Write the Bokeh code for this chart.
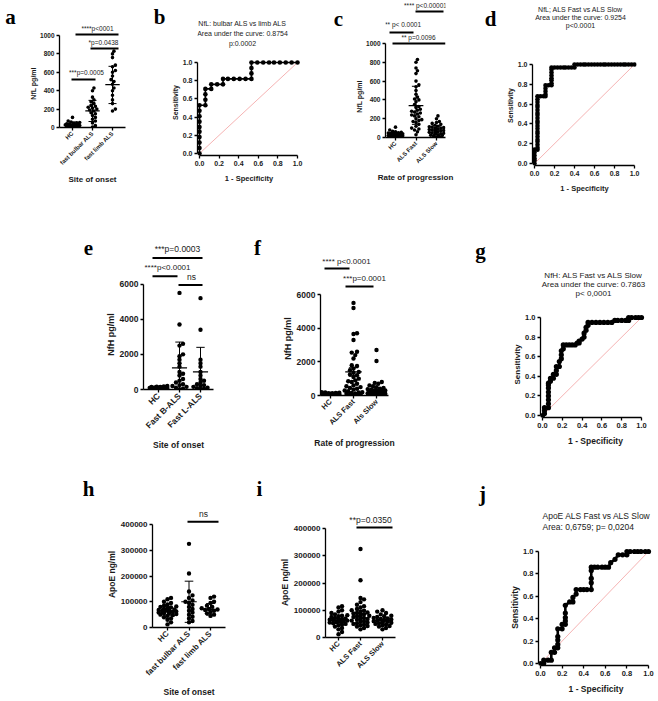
import math
import numpy as np
from bokeh.plotting import figure
from bokeh.models import Range1d, FixedTicker, Label, Title
from bokeh.layouts import row, column
from bokeh.embed import file_html
from bokeh.resources import INLINE

FONT = "Liberation Sans"
SERIF = "Liberation Serif"
INK = "#1a1a1a"

# ---------------- data ----------------
a_cats = ["HC", "fast bulbar ALS", "fast limb ALS"]
a_hc = [110, 70, 60, 55, 50, 45, 40, 38, 35, 32, 30, 28, 25, 22, 20, 18, 15, 12, 10, 8, 5, 3]
a_bulbar = [430, 400, 330, 300, 280, 260, 240, 230, 220, 210, 200, 190, 180, 160, 150, 130, 110, 90, 70, 50, 20, 5]
a_limb = [830, 800, 760, 680, 660, 620, 600, 560, 520, 500, 470, 430, 400, 350, 300, 260, 200, 180]
a_mean = [33, 180, 465]
a_lo = [5, 65, 260]
a_hi = [60, 295, 665]
a_ticks = [0, 200, 400, 600, 800, 1000]
a_tick_labels = ["0", "200", "400", "600", "800", "1000"]

b_fpr = [0, 0, 0, 0, 0, 0, 0, 0, 0, 0, 0.06, 0.06, 0.06, 0.06, 0.12, 0.12, 0.18, 0.24, 0.24,
         0.29, 0.35, 0.41, 0.47, 0.53, 0.53, 0.53, 0.53, 0.59, 0.65, 0.71, 0.76, 0.82, 0.88, 0.94, 1.0]
b_tpr = [0, 0.06, 0.12, 0.18, 0.24, 0.29, 0.35, 0.41, 0.47, 0.53, 0.53, 0.59, 0.65, 0.71, 0.71, 0.76, 0.76, 0.76, 0.82,
         0.82, 0.82, 0.82, 0.82, 0.82, 0.88, 0.94, 1.0, 1.0, 1.0, 1.0, 1.0, 1.0, 1.0, 1.0, 1.0]
roc_ticks = [0, 0.2, 0.4, 0.6, 0.8, 1.0]
roc_tick_labels = ["0.0", "0.2", "0.4", "0.6", "0.8", "1.0"]

c_cats = ["HC", "ALS Fast", "ALS Slow"]
c_hc = [110, 80, 65, 60, 55, 50, 48, 45, 42, 40, 38, 35, 33, 30, 28, 26, 24, 22, 20, 18, 16, 14, 12, 10, 8, 6, 4, 2]
c_fast = [830, 800, 740, 710, 680, 600, 560, 540, 500, 460, 430, 410, 400, 380, 350, 330, 320, 300, 290, 280,
          270, 260, 250, 240, 230, 220, 200, 190, 180, 170, 160, 140, 120, 100, 90, 80, 60, 30]
c_slow = [230, 200, 170, 160, 150, 140, 130, 120, 115, 110, 105, 100, 95, 90, 85, 80, 75, 70, 65, 60,
          55, 50, 45, 40, 35, 30, 25, 20, 15, 10, 5]
c_mean = [30, 340, 80]
c_lo = [8, 140, 35]
c_hi = [55, 545, 125]

d_fpr = [0, 0, 0, 0, 0, 0,
         0.03, 0.03, 0.03, 0.03, 0.03, 0.03, 0.03, 0.03, 0.03, 0.03, 0.03, 0.03, 0.03, 0.03, 0.03, 0.03, 0.03, 0.03, 0.03, 0.03, 0.03,
         0.06, 0.09, 0.11, 0.11, 0.11, 0.11, 0.11,
         0.14, 0.17, 0.17, 0.17, 0.17, 0.17, 0.17, 0.17, 0.17,
         0.2, 0.23, 0.26, 0.29, 0.31, 0.34, 0.37, 0.4, 0.4,
         0.43, 0.46, 0.49, 0.51, 0.54, 0.57, 0.6, 0.63, 0.66, 0.69, 0.71, 0.74, 0.77, 0.8, 0.83, 0.86, 0.89, 0.91, 0.94, 0.97, 1.0]
d_tpr = [0, 0.03, 0.05, 0.08, 0.11, 0.14,
         0.14, 0.16, 0.19, 0.22, 0.24, 0.27, 0.3, 0.32, 0.35, 0.38, 0.41, 0.43, 0.46, 0.49, 0.51, 0.54, 0.57, 0.59, 0.62, 0.65, 0.68,
         0.68, 0.68, 0.68, 0.7, 0.73, 0.76, 0.79,
         0.79, 0.79, 0.81, 0.84, 0.86, 0.89, 0.92, 0.95, 0.97,
         0.97, 0.97, 0.97, 0.97, 0.97, 0.97, 0.97, 0.97, 1.0,
         1, 1, 1, 1, 1, 1, 1, 1, 1, 1, 1, 1, 1, 1, 1, 1, 1, 1, 1, 1, 1]

e_cats = ["HC", "Fast B-ALS", "Fast L-ALS"]
e_hc = [200, 180, 160, 150, 140, 130, 120, 110, 100, 95, 90, 85, 80, 75, 70, 60, 50, 40, 30, 20]
e_bulbar = [5500, 3700, 2600, 2500, 2000, 1900, 1700, 1500, 1300, 1000, 900, 800, 600, 500, 400, 300, 250, 200, 150, 100, 50, 20]
e_limb = [5200, 3400, 1700, 1500, 1300, 1000, 800, 600, 500, 400, 300, 250, 200, 150, 100, 80, 50, 20]
e_mean = [100, 1230, 1000]
e_lo = [50, 0, 0]
e_hi = [150, 2700, 2400]
e_ticks = [0, 2000, 4000, 6000]
e_tick_labels = ["0", "2000", "4000", "6000"]

f_cats = ["HC", "ALS Fast", "Als Slow"]
f_hc = [200, 180, 165, 150, 140, 130, 120, 110, 100, 95, 90, 85, 80, 75, 70, 65, 60, 50, 40, 30, 20, 10]
f_fast = [5500, 5200, 3700, 3650, 3300, 2600, 2550, 2400, 2200, 1800, 1750, 1600, 1500, 1400, 1350, 1250, 1200, 1100, 1000, 900,
          850, 800, 700, 600, 550, 500, 450, 400, 350, 300, 250, 200, 180, 150, 120, 100, 80, 60, 40, 20]
f_slow = [2700, 2050, 800, 750, 700, 600, 550, 500, 450, 400, 380, 350, 320, 300, 280, 250, 230, 200, 180, 160,
          150, 130, 120, 100, 90, 80, 70, 60, 50, 40, 30, 20]
f_mean = [95, 1400, 350]
f_lo = [80, 1150, 230]
f_hi = [110, 1650, 470]

g_fpr = [0, 0.02, 0.02, 0.02, 0.06, 0.06, 0.06, 0.06, 0.06, 0.06, 0.06, 0.06, 0.08, 0.08, 0.11, 0.11,
         0.14, 0.14, 0.14, 0.17, 0.17, 0.19, 0.19, 0.19, 0.21, 0.21, 0.24, 0.27, 0.3, 0.33, 0.35, 0.37, 0.37,
         0.4, 0.42, 0.42, 0.44, 0.44, 0.46, 0.46, 0.5, 0.54, 0.58, 0.62, 0.66, 0.7, 0.73, 0.76, 0.8, 0.84, 0.87, 0.87,
         0.9, 0.94, 0.97, 1.0]
g_tpr = [0, 0.02, 0.05, 0.08, 0.08, 0.12, 0.16, 0.2, 0.24, 0.28, 0.31, 0.33, 0.35, 0.38, 0.38, 0.42,
         0.42, 0.46, 0.5, 0.5, 0.55, 0.58, 0.62, 0.66, 0.68, 0.72, 0.72, 0.72, 0.72, 0.72, 0.74, 0.74, 0.76,
         0.78, 0.8, 0.84, 0.87, 0.9, 0.92, 0.95, 0.95, 0.95, 0.95, 0.95, 0.95, 0.95, 0.97, 0.97, 0.97, 0.97, 0.97, 1.0,
         1.0, 1.0, 1.0, 1.0]

h_cats = ["HC", "fast bulbar ALS", "fast limb ALS"]
h_hc = [115000, 110000, 100000, 95000, 90000, 85000, 82000, 80000, 78000, 75000, 72000, 70000, 68000, 66000, 65000,
        64000, 62000, 60000, 58000, 56000, 55000, 52000, 50000, 48000, 45000, 40000, 35000, 30000, 20000, 12000]
h_bulbar = [325000, 210000, 140000, 125000, 115000, 105000, 100000, 95000, 88000, 80000, 72000, 65000,
            58000, 50000, 42000, 35000, 25000, 20000]
h_limb = [120000, 115000, 100000, 95000, 85000, 80000, 75000, 72000, 70000, 68000, 65000, 60000, 55000, 50000, 45000]
h_mean = [65000, 100000, 70000]
h_lo = [48000, 20000, 48000]
h_hi = [82000, 180000, 93000]
h_ticks = [0, 100000, 200000, 300000, 400000]
h_tick_labels = ["0", "100000", "200000", "300000", "400000"]

i_cats = ["HC", "ALS Fast", "ALS Slow"]
i_hc = [115000, 110000, 100000, 95000, 90000, 85000, 82000, 80000, 78000, 75000, 72000, 70000, 68000, 66000, 65000,
        64000, 62000, 60000, 58000, 56000, 55000, 52000, 50000, 48000, 45000, 40000, 35000, 30000, 20000, 12000]
i_fast = [325000, 210000, 145000, 140000, 130000, 120000, 115000, 110000, 105000, 100000, 98000, 95000, 92000, 90000,
          88000, 85000, 82000, 80000, 78000, 75000, 72000, 70000, 68000, 65000, 62000, 60000, 58000, 55000, 52000,
          50000, 48000, 45000, 42000, 40000, 35000, 30000]
i_slow = [100000, 95000, 90000, 85000, 80000, 78000, 75000, 72000, 70000, 68000, 66000, 64000, 62000, 60000, 58000,
          56000, 54000, 52000, 50000, 48000, 45000, 42000, 40000, 35000, 30000]
i_mean = [63000, 88000, 62000]
i_lo = [58000, 75000, 57000]
i_hi = [68000, 100000, 67000]

j_fpr = [0, 0.03, 0.03, 0.07, 0.1, 0.1, 0.13, 0.13, 0.16, 0.16, 0.16, 0.16, 0.16, 0.2, 0.2, 0.23, 0.23, 0.23, 0.23, 0.23,
         0.27, 0.3, 0.3, 0.33, 0.33, 0.37, 0.4, 0.43, 0.47, 0.47, 0.47, 0.47, 0.47, 0.5, 0.53, 0.57, 0.6, 0.63,
         0.65, 0.69, 0.72, 0.76, 0.8, 0.8, 0.83, 0.87, 0.9, 0.93, 0.97, 1.0]
j_tpr = [0, 0.0, 0.03, 0.03, 0.03, 0.1, 0.1, 0.14, 0.14, 0.17, 0.21, 0.24, 0.31, 0.31, 0.35, 0.35, 0.38, 0.41, 0.45, 0.52,
         0.55, 0.55, 0.59, 0.62, 0.66, 0.66, 0.66, 0.66, 0.66, 0.72, 0.76, 0.83, 0.86, 0.86, 0.86, 0.86, 0.86, 0.86,
         0.9, 0.93, 0.97, 0.97, 0.97, 1.0, 1.0, 1.0, 1.0, 1.0, 1.0, 1.0]

# ---------------- helpers ----------------
BOLD_W = {" ": 278, "N": 722, "f": 333, "L": 611, "p": 611, "g": 611, "/": 278, "m": 889, "l": 278, "H": 722,
          "A": 722, "o": 611, "E": 667, "n": 611, "S": 667, "e": 556, "s": 556, "i": 278, "t": 333, "v": 556, "y": 556}


def text_w(s, size):
    return sum(BOLD_W.get(ch, 600) for ch in s) * size / 1000.0


def make_panel(fig_box, frame_box, xmap, ymap):
    X0, Y0, W, H = fig_box
    L, T, R, B = frame_box
    (xp1, xv1), (xp2, xv2) = xmap
    kx = (xv2 - xv1) / (xp2 - xp1)
    (yp1, yv1), (yp2, yv2) = ymap
    ky = (yv2 - yv1) / (yp2 - yp1)
    fx = lambda X: xv1 + (X - xp1) * kx
    fy = lambda Y: yv1 + (Y - yp1) * ky
    p = figure(width=W, height=H, x_range=Range1d(fx(L), fx(R)), y_range=Range1d(fy(B), fy(T)),
               output_backend="svg", toolbar_location=None, title_location=None,
               min_border_left=L - X0, min_border_right=X0 + W - R,
               min_border_top=T - Y0, min_border_bottom=Y0 + H - B)
    p.outline_line_color = None
    p.grid.visible = False
    p.background_fill_color = "white"
    p.border_fill_color = "white"
    return p, fx, fy, 1.0 / kx, -1.0 / ky


def strip(X0, Y0, W, H, letter, LX, LY):
    p = figure(width=W, height=H, x_range=Range1d(X0, X0 + W), y_range=Range1d(Y0 + H, Y0),
               output_backend="svg", toolbar_location=None, title_location=None, min_border=0,
               x_axis_location=None, y_axis_location=None)
    p.outline_line_color = None
    p.grid.visible = False
    p.add_layout(Label(x=LX, y=LY, text=letter, text_font=SERIF, text_font_size="21px", text_font_style="bold",
                       text_align="center", text_baseline="middle", text_color="black"))
    return column(p)


def style_axes(p, tick_size, xlabel_size, xlabel_standoff):
    for ax in (p.xaxis[0], p.yaxis[0]):
        ax.axis_line_width = 1.3
        ax.axis_line_color = "black"
        ax.major_tick_line_width = 1.3
        ax.major_tick_line_color = "black"
        ax.major_tick_out = 3
        ax.major_tick_in = 0
        ax.minor_tick_line_color = None
        ax.major_label_text_font = FONT
        ax.major_label_text_font_size = tick_size
        ax.major_label_text_font_style = "bold"
        ax.major_label_text_color = INK
        ax.major_label_standoff = 2
        ax.axis_label_text_font = FONT
        ax.axis_label_text_font_size = xlabel_size
        ax.axis_label_text_font_style = "bold"
        ax.axis_label_text_color = INK
        ax.axis_label_standoff = xlabel_standoff


def ytitle(p, s, size, B, yc):
    off = B - (yc + text_w(s, size) / 2.0)
    p.add_layout(Title(text=s, align="left", offset=off, text_font=FONT, text_font_size=f"{size}px",
                       text_font_style="bold", text_color=INK, standoff=2), "left")


def text(p, fx, fy, X, Y, s, size="7px", align="center"):
    p.add_layout(Label(x=fx(X), y=fy(Y), text=s, text_font=FONT, text_font_size=size,
                       text_align=align, text_baseline="middle", text_color=INK))


def sig(p, fx, fy, X1, X2, Y, s, tx, ty, size):
    p.segment(x0=[fx(X1)], y0=[fy(Y)], x1=[fx(X2)], y1=[fy(Y)], line_width=2, color="black")
    text(p, fx, fy, tx, ty, s, size=size)


def swarm(vals, sx, sy, d, maxw):
    vals = np.asarray(vals, dtype=float)
    order = np.argsort(vals)
    step = d * 0.5
    cands = [0.0]
    k = 1
    while k * step <= maxw:
        cands += [k * step, -k * step]
        k += 1
    placed = []
    offs = np.zeros(len(vals))
    for i in order:
        y = vals[i] * sy
        best, bestd = 0.0, -1.0
        for c in cands:
            md = min([math.hypot(c - px, y - py) for px, py in placed] or [1e9])
            if md >= d:
                best = c
                break
            if md > bestd:
                best, bestd = c, md
        placed.append((best, y))
        offs[i] = best / sx
    return offs


def scatter_panel(fig_box, frame_box, xmap, ymap, cats, groups, means, lo, hi, ticks, tick_labels,
                  ybounds, ylabel, ylabel_size, ylabel_c, xlabel, xlabel_size, tick_size, cat_size, dot,
                  xlabel_standoff=5, mean_w=0.36, cap_w=0.2):
    p, fx, fy, sx, sy = make_panel(fig_box, frame_box, xmap, ymap)
    for gi, vals in enumerate(groups):
        offs = swarm(vals, sx, sy, dot * 0.8, 0.42 * sx)
        xs = [gi + 1 + o for o in offs]
        p.scatter(xs, vals, size=dot, color="black", line_color=None)
    for gi in range(len(groups)):
        c = gi + 1
        p.segment(x0=[c - mean_w], y0=[means[gi]], x1=[c + mean_w], y1=[means[gi]], color="black", line_width=1.2)
        p.segment(x0=[c], y0=[lo[gi]], x1=[c], y1=[hi[gi]], color="black", line_width=1)
        p.segment(x0=[c - cap_w, c - cap_w], y0=[lo[gi], hi[gi]], x1=[c + cap_w, c + cap_w], y1=[lo[gi], hi[gi]],
                  color="black", line_width=1)
    style_axes(p, tick_size, xlabel_size, xlabel_standoff)
    p.xaxis.ticker = FixedTicker(ticks=[1, 2, 3])
    p.xaxis.major_label_overrides = {i + 1: c for i, c in enumerate(cats)}
    p.xaxis.major_label_orientation = math.pi / 4
    p.xaxis.major_label_text_font_size = cat_size
    p.yaxis.ticker = FixedTicker(ticks=ticks)
    p.yaxis.major_label_overrides = {t: l for t, l in zip(ticks, tick_labels)}
    p.yaxis.bounds = ybounds
    if xlabel:
        p.xaxis.axis_label = xlabel
    ytitle(p, ylabel, ylabel_size, frame_box[3], ylabel_c)
    return p, fx, fy


def roc_panel(fig_box, frame_box, xmap, ymap, fpr, tpr, tick_size, xlabel_size, ylabel_size, ylabel_c, dot, lw):
    p, fx, fy, sx, sy = make_panel(fig_box, frame_box, xmap, ymap)
    p.line([0, 1], [0, 1], color="#f2a0a0", line_width=0.8)
    p.line(fpr, tpr, color="black", line_width=lw)
    p.scatter(fpr, tpr, size=dot, color="black", line_color=None)
    style_axes(p, tick_size, xlabel_size, 5)
    for ax in (p.xaxis[0], p.yaxis[0]):
        ax.ticker = FixedTicker(ticks=roc_ticks)
        ax.major_label_overrides = {t: l for t, l in zip(roc_ticks, roc_tick_labels)}
        ax.bounds = (0, 1)
    p.xaxis.axis_label = "1 - Specificity"
    ytitle(p, "Sensitivity", ylabel_size, frame_box[3], ylabel_c)
    return p, fx, fy


# ---------------- row 1 (y 0-200) ----------------
R1, H1 = 0, 200
pa, fx, fy = scatter_panel((20, R1, 130, H1), (59, 20, 125, 127), ((72, 1), (112, 3)), ((127, 0), (35, 1000)),
                           a_cats, [a_hc, a_bulbar, a_limb], a_mean, a_lo, a_hi, a_ticks, a_tick_labels, (0, 1000),
                           "NfL pg/ml", 7, 83, "Site of onset", "8px", "6.5px", "6px", 3.6, xlabel_standoff=4)
sig(pa, fx, fy, 75, 118, 34, "****p<0001", 97, 28, "6.5px")
sig(pa, fx, fy, 90, 118, 48, "*p=0.0438", 103, 42, "6.5px")
sig(pa, fx, fy, 71, 95, 79, "***p=0.0005", 86, 72, "6.5px")

pb, fx, fy = roc_panel((168, R1, 162, H1), (197, 16, 300, 155), ((199, 0), (297, 1)), ((153, 0), (62, 1)),
                       b_fpr, b_tpr, "7px", "7.5px", 7, 102, 4.6, 1.6)
for k, s in enumerate(["NfL: bulbar ALS vs limb ALS", "Area under the curve: 0.8754", "p:0.0002"]):
    text(pb, fx, fy, 242, 23 + 10 * k, s, size="7px")

pc, fx, fy = scatter_panel((346, R1, 134, H1), (385, 0, 445, 137), ((395, 1), (436, 3)), ((137, 0), (43, 1000)),
                           c_cats, [c_hc, c_fast, c_slow], c_mean, c_lo, c_hi, a_ticks, a_tick_labels, (0, 1000),
                           "NfL pg/ml", 7, 96, "Rate of progression", "8px", "6.5px", "6px", 3.6, xlabel_standoff=4)
sig(pc, fx, fy, 415, 443, 11, "**** p<0.00001", 425, 5, "6.5px")
sig(pc, fx, fy, 389, 413, 32, "**** p< 0.0001", 400, 24, "6.5px")
sig(pc, fx, fy, 392, 445, 43, "** p=0.0096", 418, 37, "6.5px")

pd, fx, fy = roc_panel((500, R1, 156, H1), (532, 4, 636, 165), ((534, 0), (634, 1)), ((163, 0), (64, 1)),
                       d_fpr, d_tpr, "7px", "7.5px", 7, 105, 4.6, 2.2)
for k, s in enumerate(["NfL; ALS Fast vs ALS Slow", "Area under the curve: 0.9254", "p<0.0001"]):
    text(pd, fx, fy, 580, 9 + 8 * k, s, size="7px")

row1 = row(strip(0, R1, 20, H1, "a", 10, 16), column(pa),
           strip(150, R1, 18, H1, "b", 159, 16), column(pb),
           strip(330, R1, 16, H1, "c", 338, 18), column(pc),
           strip(480, R1, 20, H1, "d", 490, 18), column(pd))

# ---------------- row 2 (y 200-452) ----------------
R2, H2 = 200, 252
pe, fx, fy = scatter_panel((100, R2, 140, H2), (143, 243, 213, 394), ((158, 1), (200, 3)), ((394, 0), (285, 6000)),
                           e_cats, [e_hc, e_bulbar, e_limb], e_mean, e_lo, e_hi, e_ticks, e_tick_labels, (0, 6000),
                           "NfH pg/ml", 9, 339, "Site of onset", "8.5px", "8.5px", "8.5px", 4.4, xlabel_standoff=3)
sig(pe, fx, fy, 152, 202, 258, "***p=0.0003", 177, 249, "8.5px")
sig(pe, fx, fy, 152, 177, 277, "****p<0.0001", 167, 268, "8px")
sig(pe, fx, fy, 178, 202, 286, "ns", 191, 278, "8.5px")

pf, fx, fy = scatter_panel((268, R2, 192, H2), (320, 254, 388, 395), ((330, 1), (376, 3)), ((395, 0), (294, 6000)),
                           f_cats, [f_hc, f_fast, f_slow], f_mean, f_lo, f_hi, e_ticks, e_tick_labels, (0, 6000),
                           "NfH pg/ml", 9, 338, "Rate of progression", "8.5px", "8.5px", "7.5px", 4.4, xlabel_standoff=5)
sig(pf, fx, fy, 324, 349, 268, "**** p<0.0001", 346, 261, "8px")
sig(pf, fx, fy, 345, 373, 286, "***p=0.0001", 364, 278, "8px")

pg, fx, fy = roc_panel((495, R2, 161, H2), (540, 268, 650, 417), ((542, 0), (641, 1)), ((415, 0), (317, 1)),
                       g_fpr, g_tpr, "7.5px", "8.5px", 8, 364, 5.2, 2.6)
for k, s in enumerate(["NfH: ALS Fast vs ALS Slow", "Area under the curve: 0.7863", "p< 0,0001"]):
    text(pg, fx, fy, 593, 275 + 9 * k, s, size="8px")

row2 = row(strip(0, R2, 100, H2, "e", 88, 247), column(pe),
           strip(240, R2, 28, H2, "f", 257, 247), column(pf),
           strip(460, R2, 35, H2, "g", 480, 250), column(pg))

# ---------------- row 3 (y 452-699) ----------------
R3, H3 = 452, 247
ph, fx, fy = scatter_panel((100, R3, 140, H3), (152, 505, 225, 633), ((167, 1), (210, 3)), ((633, 0), (525, 400000)),
                           h_cats, [h_hc, h_bulbar, h_limb], h_mean, h_lo, h_hi, h_ticks, h_tick_labels, (0, 400000),
                           "ApoE ng/ml", 8.5, 580, "Site of onset", "8.5px", "8px", "8px", 4.4, xlabel_standoff=3)
sig(ph, fx, fy, 187, 218, 522, "ns", 203, 514, "8.5px")

pi_, fx, fy = scatter_panel((270, R3, 190, H3), (325, 508, 395, 637), ((338, 1), (382, 3)), ((637, 0), (528, 400000)),
                            i_cats, [i_hc, i_fast, i_slow], i_mean, i_lo, i_hi, h_ticks, h_tick_labels, (0, 400000),
                            "ApoE ng/ml", 8.5, 582, None, "8.5px", "8px", "7.5px", 4.4)
sig(pi_, fx, fy, 356, 392, 527, "**p=0.0350", 370, 519, "8.5px")

pj, fx, fy = roc_panel((495, R3, 161, H3), (538, 508, 653, 665), ((540, 0), (648, 1)), ((663, 0), (551, 1)),
                       j_fpr, j_tpr, "7.5px", "8.5px", 8.5, 607, 5.2, 2.6)
text(pj, fx, fy, 542, 515, "ApoE ALS Fast vs ALS Slow", size="8.5px", align="left")
text(pj, fx, fy, 542, 526, "Area: 0,6759; p= 0,0204", size="8.5px", align="left")

row3 = row(strip(0, R3, 100, H3, "h", 88, 488), column(ph),
           strip(240, R3, 30, H3, "i", 259, 488), column(pi_),
           strip(460, R3, 35, H3, "j", 482, 493), column(pj))

layout = column(row1, row2, row3)
open("out.html", "w").write(file_html(layout, INLINE))
